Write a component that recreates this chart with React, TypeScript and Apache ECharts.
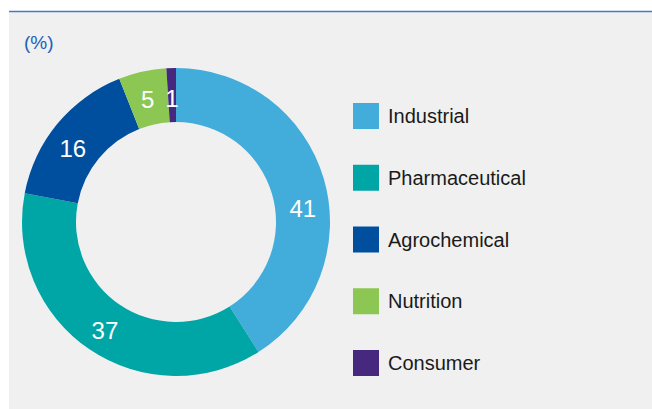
import React, { useEffect, useRef } from "react";
import * as echarts from "echarts";

const categories = ["Industrial", "Pharmaceutical", "Agrochemical", "Nutrition", "Consumer"];
const shares = [41, 37, 16, 5, 1];
const colors = ["#42acdb", "#00a6a6", "#004f9f", "#8cc653", "#46297f"];
const unitLabel = "(%)";
// small nudges of the value labels as placed in the original
const labelNudges = [
  [2, 23],
  [2, 1],
  [-3, 9],
  [0, 4],
  [0, 6],
];

export default function App() {
  const ref = useRef<HTMLDivElement>(null);
  useEffect(() => {
    const chart = echarts.init(ref.current!, null, { renderer: "svg" });
    const font = "'Liberation Sans', Arial, Helvetica, sans-serif";
    chart.setOption({
      animation: false,
      backgroundColor: "#ffffff",
      graphic: [
        { type: "rect", shape: { x: 9, y: 12, width: 643, height: 397 }, style: { fill: "#f0f0f0" }, z: -10 },
        { type: "line", shape: { x1: 9, y1: 11.5, x2: 652, y2: 11.5 }, style: { stroke: "#4a78c8", lineWidth: 1.5 }, z: -9 },
        { type: "text", left: 24, top: 33, style: { text: unitLabel, fill: "#2060b8", font: `19px ${font}` } },
      ],
      legend: {
        orient: "vertical",
        left: 348,
        top: 98,
        itemWidth: 26,
        itemHeight: 26,
        itemGap: 35.75,
        icon: "rect",
        selectedMode: false,
        textStyle: { fontSize: 20, fontFamily: font, color: "#1a1a1a", padding: [0, 0, 0, 4] },
        data: categories,
      },
      series: [
        {
          type: "pie",
          center: [176, 222],
          radius: [100, 154],
          startAngle: 90,
          clockwise: true,
          avoidLabelOverlap: false,
          label: {
            show: true,
            position: "inside",
            formatter: "{c}",
            color: "#ffffff",
            fontSize: 24,
            fontFamily: font,
          },
          labelLayout: (p: any) => ({ dx: labelNudges[p.dataIndex][0], dy: labelNudges[p.dataIndex][1] }),
          labelLine: { show: false },
          emphasis: { disabled: true },
          data: categories.map((name, i) => ({ name, value: shares[i], itemStyle: { color: colors[i] } })),
        },
      ],
    });
    return () => chart.dispose();
  }, []);
  return <div ref={ref} style={{ position: "fixed", left: 0, top: 0, width: 652, height: 409 }} />;
}
